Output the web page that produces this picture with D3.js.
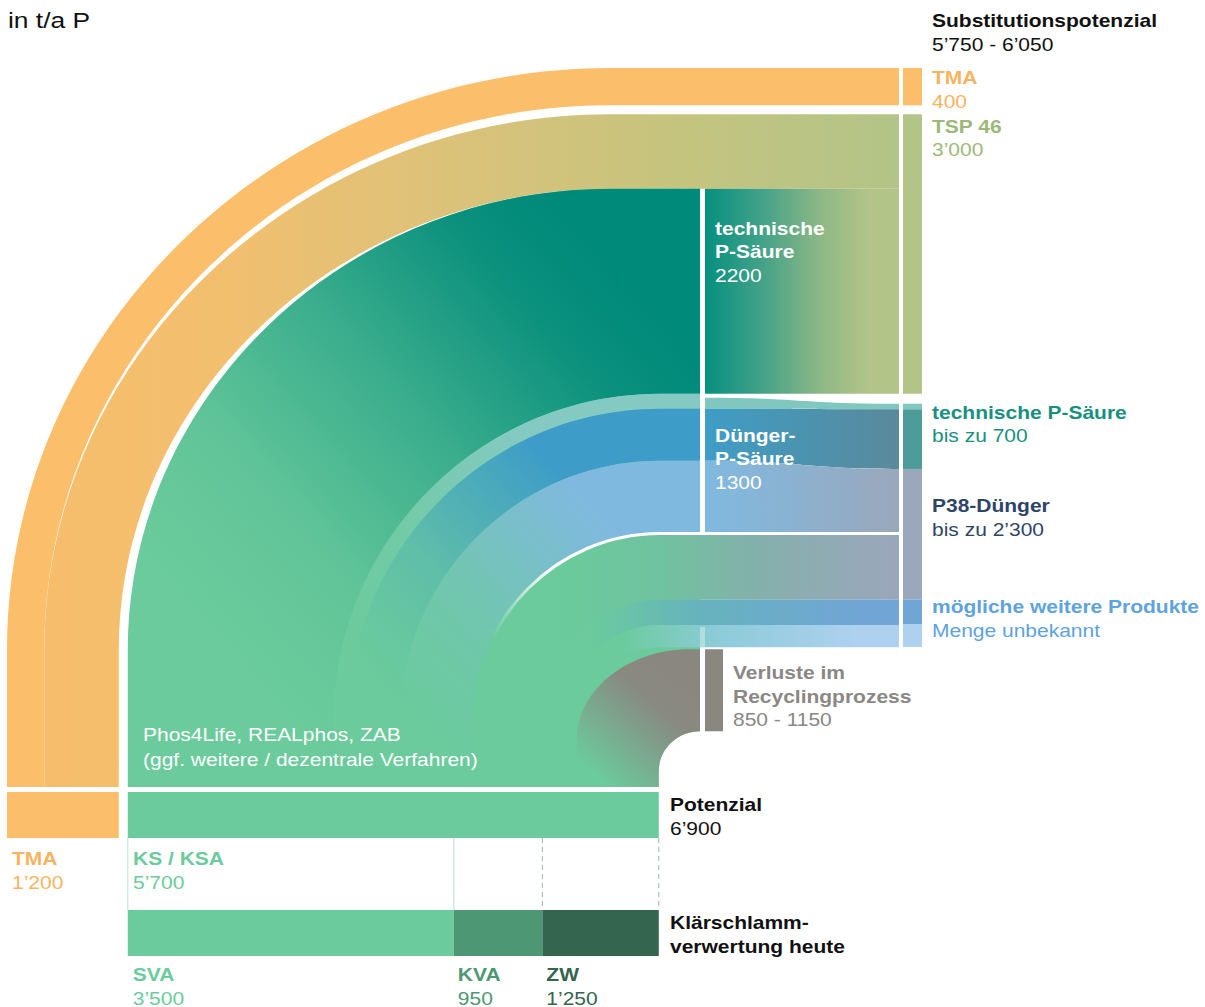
<!DOCTYPE html>
<html>
<head>
<meta charset="utf-8">
<script src="https://cdn.jsdelivr.net/npm/d3@7"></script>
<style>
  body { margin: 0; background: #fff; }
  text { font-family: "Liberation Sans", Arial, Helvetica, sans-serif; }
</style>
</head>
<body>
<script>
// Werte in t/a P
const sourceNames = ["TMA", "KS / KSA"];
const sourceValues = [1200, 5700];
const tmaSplit = [400, 800];              // TMA -> TMA, TMA -> TSP 46

// Teilströme im KS-Fluss (von aussen nach innen, am Knick bei x=700)
const midNames = ["techP", "hellTeal", "blau", "hellblau", "unten", "blau2", "hellblau2", "verluste"];
const midValues = [2200, 160, 560, 770, 700, 270, 240, 880];

// Produktsäule rechts (gezeichnete Mengen, geschätzt)
const outNames = ["TMA", "TSP 46", "techP hell", "technische P-Säure", "P38-Dünger", "möglich a", "möglich b"];
const outValues = [400, 3000, 60, 640, 1400, 270, 240];

const todayNames = ["SVA", "KVA", "ZW"];
const todayValues = [3500, 950, 1250];

// Beschriftungen
const outTitles = ["Substitutionspotenzial", "TMA", "TSP 46", "technische P-Säure", "P38-Dünger", "mögliche weitere Produkte"];
const outLabels = ["5’750 - 6’050", "400", "3’000", "bis zu 700", "bis zu 2’300", "Menge unbekannt"];
const todayLabels = ["3’500", "950", "1’250"];

const width = 1205;
const height = 1007;

const svg = d3.select("body").append("svg").attr("width", width).attr("height", height);
const defs = svg.append("defs");

function linGrad(id, x1, y1, x2, y2, stops) {
  const g = defs.append("linearGradient").attr("id", id)
    .attr("gradientUnits", "userSpaceOnUse")
    .attr("x1", x1).attr("y1", y1).attr("x2", x2).attr("y2", y2);
  stops.forEach(st => g.append("stop")
    .attr("offset", st[0]).attr("stop-color", st[1])
    .attr("stop-opacity", st[2] == null ? 1 : st[2]));
  return "url(#" + id + ")";
}

/** Mengen -> Pixel */
const s = d3.scaleLinear().domain([0, d3.sum(todayValues)]).range([0, 531]);

const x0 = 7, gapX = 9, yTop = 68, gapY = 9;
const yBase = 787;                 // unteres Ende der Flüsse
const ksX = x0 + s(sourceValues[0]) + gapX;
const ksEnd = ksX + s(sourceValues[1]);
const xMid = 700, xR0 = 705, xR1 = 899, colX = 903, colW = 19;
const O1 = { cx: 610, cy: 650 };   // Zentrum der äusseren Bögen
const C2 = { cx: 660, cy: 720 };   // Zentrum der inneren Bögen
const K = 0.55;

// Kante: vertikal hoch bis cy, Bogen bis cx, dann horizontal
function curveUp(p, e, yb, xEnd, move) {
  const rx = e.cx - e.x, ry = e.cy - e.y;
  if (move) p.moveTo(e.x, yb); else p.lineTo(e.x, yb);
  p.lineTo(e.x, e.cy);
  p.bezierCurveTo(e.x, e.cy - K * ry, e.cx - K * rx, e.y, e.cx, e.y);
  p.lineTo(xEnd, e.y);
}
function curveDown(p, e, yb, xEnd) {
  const rx = e.cx - e.x, ry = e.cy - e.y;
  p.lineTo(xEnd, e.y);
  p.lineTo(e.cx, e.y);
  p.bezierCurveTo(e.cx - K * rx, e.y, e.x, e.cy - K * ry, e.x, e.cy);
  p.lineTo(e.x, yb);
}
function band(outer, inner, yb, xEnd) {
  const p = d3.path();
  curveUp(p, outer, yb, xEnd, true);
  curveDown(p, inner, yb, xEnd);
  p.closePath();
  return p.toString();
}
const e1 = (x, y) => ({ x, y, cx: O1.cx, cy: O1.cy });
const e2 = y => ({ x: C2.cx - (C2.cy - y), y, cx: C2.cx, cy: C2.cy });

// Rechteck-Fluss mit leicht geschwungenen Kanten
function flowRect(xa, xb, topL, topR, botL, botR) {
  const xm = (xa + xb) / 2, p = d3.path();
  p.moveTo(xa, topL);
  p.bezierCurveTo(xm, topL, xm, topR, xb, topR);
  p.lineTo(xb, botR);
  p.bezierCurveTo(xm, botR, xm, botL, xa, botL);
  p.closePath();
  return p.toString();
}

/** TMA-Flüsse */
const tmaIn = x0 + s(tmaSplit[0]);
const tspTop = yTop + s(tmaSplit[0]) + gapY;
const yMid0 = tspTop + s(tmaSplit[1]);

svg.append("path")
  .attr("d", band(e1(x0, yTop), e1(tmaIn, yTop + s(tmaSplit[0])), yBase, xR1))
  .attr("fill", "#fbbf6b");

svg.append("path")
  .attr("d", band(e1(tmaIn, tspTop), e1(x0 + s(sourceValues[0]), yMid0), yBase, xR1))
  .attr("fill", linGrad("gTsp", 60, 0, xR1, 0,
    [[0, "#f6be6c"], [0.2, "#f2bf6f"], [0.45, "#dcc279"], [0.75, "#c4c47f"], [1, "#b2c488"]]));

/** KS-Teilströme */
let acc = yMid0;
const midGap = [0, 0, 0, 0, 2, 0, 0, 2];
const mid = midValues.map((v, i) => {
  acc += midGap[i];
  const y0 = acc; acc += s(v);
  return { name: midNames[i], y0, y1: acc };
});
const M = {};
mid.forEach(m => M[m.name] = m);

const notch = { x: ksEnd, y: M.verluste.y1, cx: xMid, cy: M.verluste.y1 + 40 };

// Grundfläche KS
svg.append("path")
  .attr("d", band(e1(ksX, yMid0), notch, yBase, xMid))
  .attr("fill", "#6bcb9c");

// technische P-Säure 2200
svg.append("path")
  .attr("d", band(e1(ksX, yMid0), e2(M.techP.y1), yBase, xMid))
  .attr("fill", linGrad("gTech", 200, 620, 600, 260,
    [[0, "#008a7a", 0], [0.25, "#008a7a", 0.1], [0.55, "#008a7a", 0.45], [0.85, "#008a7a", 0.9], [1, "#008a7a", 1]]));

// Dünger-P-Säure-Ströme
const upperCols = { hellTeal: "#84cac2", blau: "#3d9cc8", hellblau: "#80b9e0" };
["hellTeal", "blau", "hellblau"].forEach(n => {
  svg.append("path")
    .attr("d", band(e2(M[n].y0), e2(M[n].y1), yBase, xMid))
    .attr("fill", linGrad("g_" + n, 380, 680, 650, 430,
      [[0, upperCols[n], 0], [0.3, upperCols[n], 0.25], [0.75, upperCols[n], 1], [1, upperCols[n], 1]]));
});

// Ströme unter der weissen Linie (laufen bis rechts durch)
svg.append("path")
  .attr("d", band(e2(M.unten.y0), e2(M.unten.y1), yBase, xR1))
  .attr("fill", linGrad("gUnten", 560, 0, 890, 0,
    [[0, "#6bcb9c"], [0.3, "#6fc29f"], [0.6, "#84b0ab"], [1, "#9aa7bb"]]));
svg.append("path")
  .attr("d", band(e2(M.blau2.y0), e2(M.blau2.y1), yBase, xR1))
  .attr("fill", linGrad("gBlau2", 590, 0, 860, 0,
    [[0, "#6bcb9c"], [0.4, "#66b3bd"], [1, "#71a5d6"]]));
svg.append("path")
  .attr("d", band(e2(M.hellblau2.y0), e2(M.hellblau2.y1), yBase, xR1))
  .attr("fill", linGrad("gHb2", 620, 0, 860, 0,
    [[0, "#6bcb9c"], [0.4, "#8ccbd8"], [1, "#aed1f0"]]));

// Verluste
const grayOuter = { x: ksEnd - s(midValues[7]), y: M.verluste.y0, cx: 690, cy: 740 };
svg.append("path")
  .attr("d", band(grayOuter, notch, yBase, xMid))
  .attr("fill", linGrad("gGray", 595, 775, 690, 670,
    [[0, "#8a8680", 0], [0.65, "#8a8680", 0.95], [1, "#8a8680", 1]]));

/** rechte Flächen zwischen Knick und Säule */
svg.append("rect")
  .attr("x", xR0).attr("y", M.techP.y0)
  .attr("width", xR1 - xR0).attr("height", M.techP.y1 - M.techP.y0)
  .attr("fill", linGrad("gTechR", xR0, 0, xR1, 0,
    [[0, "#06907f"], [0.3, "#44a288"], [0.6, "#8fb886"], [0.85, "#b2c488"], [1, "#b3c488"]]));

// Säulenpositionen
acc = yTop;
const colGap = [0, gapY, 10, 0, 0, 0, 0];
const col = outValues.map((v, i) => {
  acc += colGap[i];
  const y0 = acc; acc += s(v);
  return { name: outNames[i], y0, y1: acc };
});

svg.append("path")
  .attr("d", flowRect(xR0, xR1, M.techP.y1 + 4, col[2].y0, M.hellTeal.y1, col[2].y1))
  .attr("fill", "#80c7bf");
svg.append("path")
  .attr("d", flowRect(xR0, xR1, M.blau.y0, col[3].y0, M.blau.y1, col[3].y1))
  .attr("fill", linGrad("gBlauR", xR0, 0, xR1, 0, [[0, "#3f9dc6"], [0.5, "#4b93b0"], [1, "#5a8a9b"]]));
svg.append("path")
  .attr("d", flowRect(xR0, xR1, M.hellblau.y0, col[3].y1, M.hellblau.y1, M.hellblau.y1))
  .attr("fill", linGrad("gHbR", xR0, 0, xR1, 0, [[0, "#80b9e0"], [0.5, "#8cb1cf"], [1, "#9ba7bb"]]));

// weisse Trennlinie (Bogen)
const wl = d3.path();
curveUp(wl, e2((M.hellblau.y1 + M.unten.y0) / 2), C2.cy, xR1, true);
svg.append("path")
  .attr("d", wl.toString())
  .attr("fill", "none")
  .attr("stroke-width", 3)
  .attr("stroke", linGrad("gWl", 492, 0, 550, 0, [[0, "#fff", 0], [1, "#fff", 1]]));

// feine helle Linie im unteren Band
svg.append("rect")
  .attr("x", xMid).attr("y", M.hellblau2.y0 + 2)
  .attr("width", xR0 - xMid).attr("height", M.hellblau2.y1 - M.hellblau2.y0 - 2)
  .attr("fill", "#fff").attr("fill-opacity", 0.35);

/** Produktsäule */
const colColors = ["#fbbf6b", "#b3c488", "#80c7bf", "#4d9c99", "#9ba8bb", "#71a5d6", "#aed1f0"];
svg.append("g").selectAll("rect")
  .data(col)
  .join("rect")
  .attr("x", colX).attr("y", d => d.y0)
  .attr("width", colW).attr("height", d => d.y1 - d.y0)
  .attr("fill", (d, i) => colColors[i]);

// Säule Verluste
svg.append("rect")
  .attr("x", xR0).attr("y", M.verluste.y0)
  .attr("width", 18).attr("height", M.verluste.y1 - M.verluste.y0)
  .attr("fill", "#8a8680");

/** Balken unten */
const barY = 792, barH = 46, todayY = 910;
svg.append("rect").attr("x", x0).attr("y", barY)
  .attr("width", s(sourceValues[0])).attr("height", barH).attr("fill", "#fbbf6b");
svg.append("rect").attr("x", ksX).attr("y", barY)
  .attr("width", s(sourceValues[1])).attr("height", barH).attr("fill", "#6bcb9c");

const todayColors = ["#6bcb9c", "#4e9774", "#33654f"];
const todayX = [];
acc = ksX;
todayValues.forEach(v => { todayX.push(acc); acc += s(v); });
svg.append("g").selectAll("rect")
  .data(todayValues)
  .join("rect")
  .attr("x", (d, i) => todayX[i]).attr("y", todayY)
  .attr("width", d => s(d)).attr("height", barH)
  .attr("fill", (d, i) => todayColors[i]);

// Rahmenlinien zwischen den Balken
const boxLines = [
  { x: ksX, dash: null }, { x: todayX[1], dash: null },
  { x: todayX[2], dash: "5,4" }, { x: ksEnd, dash: "5,4" }
];
svg.append("g").selectAll("line")
  .data(boxLines)
  .join("line")
  .attr("x1", d => d.x).attr("x2", d => d.x)
  .attr("y1", barY + barH).attr("y2", todayY)
  .attr("stroke", d => d.dash ? "#9cb9aa" : "#b5e3cc")
  .attr("stroke-width", 1)
  .attr("stroke-dasharray", d => d.dash);

/** Texte */
const SX = 1.2;
function label(x, y, lines, color, fs = 17.5, lh = 23.6) {
  const g = svg.append("g").attr("transform", `translate(${x},${y}) scale(${SX},1)`);
  lines.forEach((l, i) => {
    g.append("text").attr("y", i * lh).attr("fill", color)
      .attr("font-size", fs).attr("font-weight", l[1] ? 700 : 400).text(l[0]);
  });
}

label(8, 28, [["in t/a P", false]], "#111", 22);

const labX = 932;
label(labX, 27, [[outTitles[0], true], [outLabels[0], false]], "#111");
label(labX, col[0].y0 + 16, [[outTitles[1], true], [outLabels[1], false]], "#f6b460");
label(labX, col[1].y0 + 18.5, [[outTitles[2], true], [outLabels[2], false]], "#9db878");
label(labX, col[2].y0 + 15, [[outTitles[3], true], [outLabels[3], false]], "#17907f");
label(labX, col[4].y0 + 43, [[outTitles[4], true], [outLabels[4], false]], "#2e4466");
label(labX, col[5].y0 + 14, [[outTitles[5], true], [outLabels[5], false]], "#5ea3de");

label(715, M.techP.y0 + 46, [["technische", true], ["P-Säure", true], ["2200", false]], "#fff");
label(715, M.blau.y0 + 33, [["Dünger-", true], ["P-Säure", true], ["1300", false]], "#fff");
label(733, M.verluste.y0 + 30, [["Verluste im", true], ["Recyclingprozess", true], ["850 - 1150", false]], "#8a8784");

label(143, 741, [["Phos4Life, REALphos, ZAB", false], ["(ggf. weitere / dezentrale Verfahren)", false]], "#fff", 17.5, 25);

label(670, barY + 19, [["Potenzial", true], ["6’900", false]], "#111");
label(12, barY + barH + 27, [[sourceNames[0], true], ["1’200", false]], "#f6b460");
label(133, barY + barH + 27, [[sourceNames[1], true], ["5’700", false]], "#6bcb9c");
label(670, todayY + 19, [["Klärschlamm-", true], ["verwertung heute", true]], "#111");

const todayLabelColors = ["#6bcb9c", "#4e9774", "#33654f"];
todayNames.forEach((n, i) => {
  label(todayX[i] + (i === 0 ? 5 : 4), todayY + barH + 25, [[n, true], [todayLabels[i], false]], todayLabelColors[i]);
});
</script>
</body>
</html>
